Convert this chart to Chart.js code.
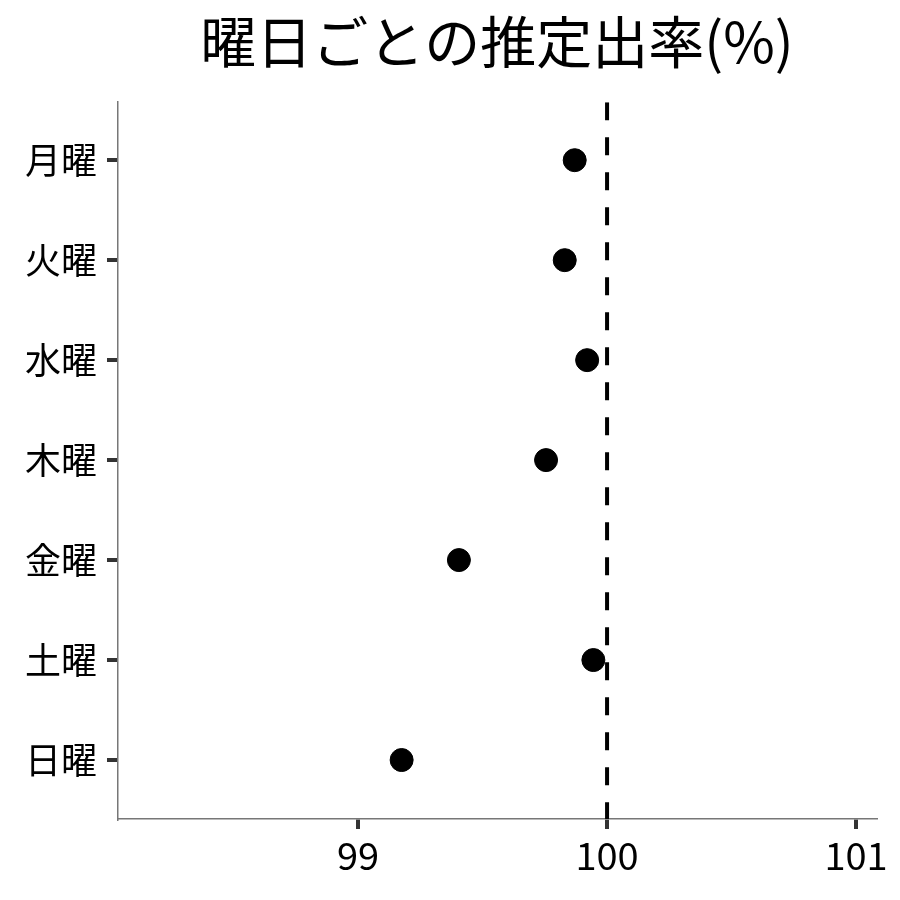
<!DOCTYPE html>
<html>
<head>
<meta charset="utf-8">
<script src="https://cdn.jsdelivr.net/npm/chart.js@4"></script>
<style>
  body { margin: 0; background: #fff; }
  #wrap { width: 900px; height: 900px; }
</style>
</head>
<body>
<div id="wrap"><canvas id="dayChart" width="900" height="900"></canvas></div>
<script>
const days = ["月曜", "火曜", "水曜", "木曜", "金曜", "土曜", "日曜"];
const rates = [99.87, 99.83, 99.92, 99.755, 99.405, 99.945, 99.175];
const xTicks = [99, 100, 101];
const refValue = 100;

const font = "'Noto Sans CJK JP', 'Noto Sans', sans-serif";

const points = days.map((d, i) => ({ x: rates[i], y: i }));

const ctx = document.getElementById('dayChart').getContext('2d');
new Chart(ctx, {
    type: 'scatter',
    data: {
        datasets: [{
            data: points,
            backgroundColor: '#000',
            borderColor: '#000',
            pointRadius: 11.5,
            pointHoverRadius: 11.5
        }, {
            type: 'line',
            data: [{ x: refValue, y: -0.58 }, { x: refValue, y: days.length - 0.41 }],
            borderColor: '#000',
            borderWidth: 4,
            borderDash: [18, 17],
            pointRadius: 0,
            fill: false
        }]
    },
    options: {
        responsive: false,
        animation: false,
        layout: { padding: { right: 24, top: 0, bottom: 0, left: 0 } },
        plugins: {
            legend: { display: false },
            tooltip: { enabled: false },
            title: {
                display: true,
                text: '曜日ごとの推定出率(%)',
                color: '#000',
                fullSize: false,
                font: { family: font, size: 56, weight: 'normal' },
                padding: { top: 8, bottom: 27 }
            }
        },
        scales: {
            x: {
                type: 'linear',
                min: 98.036,
                max: 101.08,
                afterBuildTicks: s => { s.ticks = xTicks.map(v => ({ value: v })); },
                afterFit: s => { s.height = 81; },
                grid: { drawOnChartArea: false, drawTicks: true, lineWidth: 4, tickLength: 10, tickWidth: 4, tickColor: '#333' },
                border: { color: '#777', width: 1.5 },
                ticks: {
                    color: '#000',
                    padding: 4,
                    maxRotation: 0,
                    font: { family: font, size: 38 }
                }
            },
            y: {
                type: 'linear',
                reverse: true,
                min: -0.58,
                max: days.length - 0.41,
                afterBuildTicks: s => { s.ticks = days.map((d, i) => ({ value: i })); },
                afterFit: s => { s.width = 118; },
                grid: { drawOnChartArea: false, drawTicks: true, lineWidth: 4, tickLength: 11, tickWidth: 4, tickColor: '#333' },
                border: { color: '#777', width: 1.5 },
                ticks: {
                    color: '#000',
                    padding: 10,
                    font: { family: font, size: 36 },
                    callback: v => days[v]
                }
            }
        }
    }
});
</script>
</body>
</html>
